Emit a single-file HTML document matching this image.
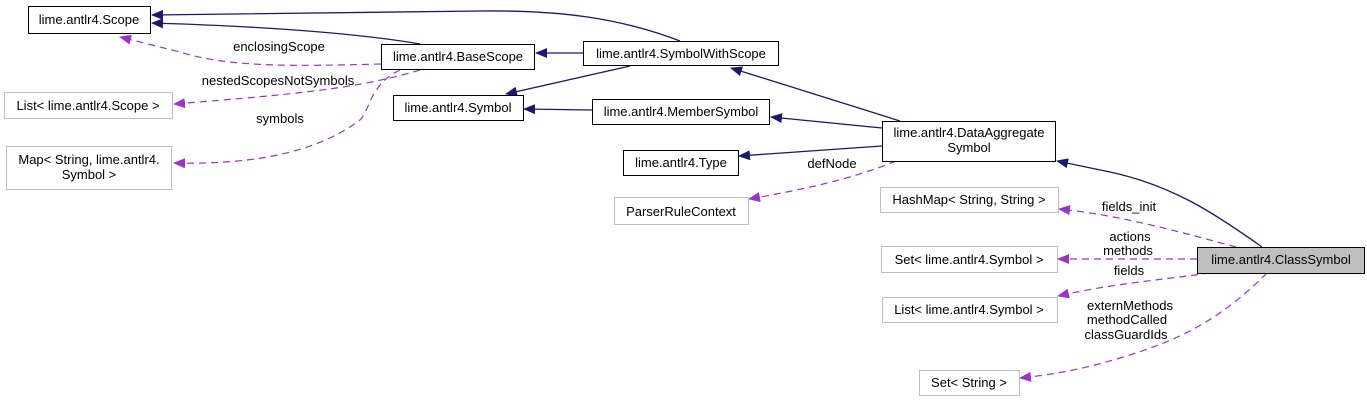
<!DOCTYPE html>
<html><head><style>body{margin:0;background:#fff}svg{display:block}text{font-family:"Liberation Sans",sans-serif;font-size:13px;fill:#000}</style></head><body>
<svg width="1367" height="401" viewBox="0 0 1367 401">
<defs>
<marker id="b" markerWidth="12" markerHeight="10" refX="11" refY="5" orient="auto" markerUnits="userSpaceOnUse"><path d="M0,0L12,5L0,10z" fill="#191970"/></marker>
<marker id="p" markerWidth="12" markerHeight="10" refX="11" refY="5" orient="auto" markerUnits="userSpaceOnUse"><path d="M0,0L12,5L0,10z" fill="#9a32cd"/></marker>
</defs>
<g fill="none" stroke="#191970" stroke-width="1.3">
<path d="M680,41 C620,18 560,10 480,11 L152,15" marker-end="url(#b)"/>
<path d="M420,44 C350,32 250,26 152,23" marker-end="url(#b)"/>
<path d="M583,53 L536,53" marker-end="url(#b)"/>
<path d="M630,66 L506,94" marker-end="url(#b)"/>
<path d="M592,110 L524,109" marker-end="url(#b)"/>
<path d="M882,128 L771,117" marker-end="url(#b)"/>
<path d="M882,146 L739,156" marker-end="url(#b)"/>
<path d="M900,121 L731,68" marker-end="url(#b)"/>
<path d="M1262,247 C1210,210 1170,185 1110,172 L1057,161" marker-end="url(#b)"/>
</g>
<g fill="none" stroke="#9a32cd" stroke-width="1.2" stroke-dasharray="7,5">
<path d="M381,64 C300,66 230,68 180,52 L120,37" marker-end="url(#p)"/>
<path d="M420,70 C360,88 300,94 174,104" marker-end="url(#p)"/>
<path d="M400,70 C370,84 370,110 360,120 C320,150 260,165 174,163" marker-end="url(#p)"/>
<path d="M896,161 C850,180 800,190 749,199" marker-end="url(#p)"/>
<path d="M1236,247 C1180,232 1120,215 1059,209" marker-end="url(#p)"/>
<path d="M1197,259 L1058,259" marker-end="url(#p)"/>
<path d="M1210,273 C1160,280 1110,284 1058,296" marker-end="url(#p)"/>
<path d="M1267,273 C1220,320 1180,340 1120,358 C1080,370 1050,375 1020,378" marker-end="url(#p)"/>
</g>
<g stroke-width="1" fill="#fff">
<rect x="28.5" y="6.5" width="122" height="27" stroke="#000"/>
<rect x="381.5" y="44.5" width="153" height="25" stroke="#000"/>
<rect x="583.5" y="41.5" width="195" height="24" stroke="#000"/>
<rect x="393.5" y="95.5" width="130" height="25" stroke="#000"/>
<rect x="592.5" y="99.5" width="177" height="25" stroke="#000"/>
<rect x="623.5" y="150.5" width="115" height="25" stroke="#000"/>
<rect x="882.5" y="121.5" width="173" height="40" stroke="#000"/>
<rect x="1197.5" y="247.5" width="167" height="26" stroke="#000" fill="#bfbfbf"/>
<rect x="4.5" y="92.5" width="168" height="26" stroke="#bfbfbf"/>
<rect x="6.5" y="146.5" width="165" height="43" stroke="#bfbfbf"/>
<rect x="614.5" y="197.5" width="134" height="27" stroke="#bfbfbf"/>
<rect x="880.5" y="187.5" width="178" height="25" stroke="#bfbfbf"/>
<rect x="881.5" y="246.5" width="176" height="26" stroke="#bfbfbf"/>
<rect x="882.5" y="297.5" width="175" height="25" stroke="#bfbfbf"/>
<rect x="919.5" y="370.5" width="100" height="25" stroke="#bfbfbf"/>
</g>
<g text-anchor="middle">
<text x="89" y="24">lime.antlr4.Scope</text>
<text x="458" y="61">lime.antlr4.BaseScope</text>
<text x="681" y="58">lime.antlr4.SymbolWithScope</text>
<text x="458" y="112">lime.antlr4.Symbol</text>
<text x="681" y="116">lime.antlr4.MemberSymbol</text>
<text x="681" y="167">lime.antlr4.Type</text>
<text x="969" y="137">lime.antlr4.DataAggregate</text>
<text x="969" y="152">Symbol</text>
<text x="1281" y="264">lime.antlr4.ClassSymbol</text>
<text x="88" y="110">List&lt; lime.antlr4.Scope &gt;</text>
<text x="89" y="164">Map&lt; String, lime.antlr4.</text>
<text x="89" y="179">Symbol &gt;</text>
<text x="681" y="216">ParserRuleContext</text>
<text x="969" y="204">HashMap&lt; String, String &gt;</text>
<text x="969" y="264">Set&lt; lime.antlr4.Symbol &gt;</text>
<text x="969" y="314">List&lt; lime.antlr4.Symbol &gt;</text>
<text x="969" y="387">Set&lt; String &gt;</text>
<text x="279" y="51">enclosingScope</text>
<text x="278" y="85">nestedScopesNotSymbols</text>
<text x="280" y="123">symbols</text>
<text x="832" y="168">defNode</text>
<text x="1129" y="211">fields_init</text>
<text x="1130" y="241">actions</text>
<text x="1128" y="255">methods</text>
<text x="1129" y="275">fields</text>
<text x="1130" y="310">externMethods</text>
<text x="1127" y="324">methodCalled</text>
<text x="1126" y="339">classGuardIds</text>
</g>
</svg>
</body></html>
